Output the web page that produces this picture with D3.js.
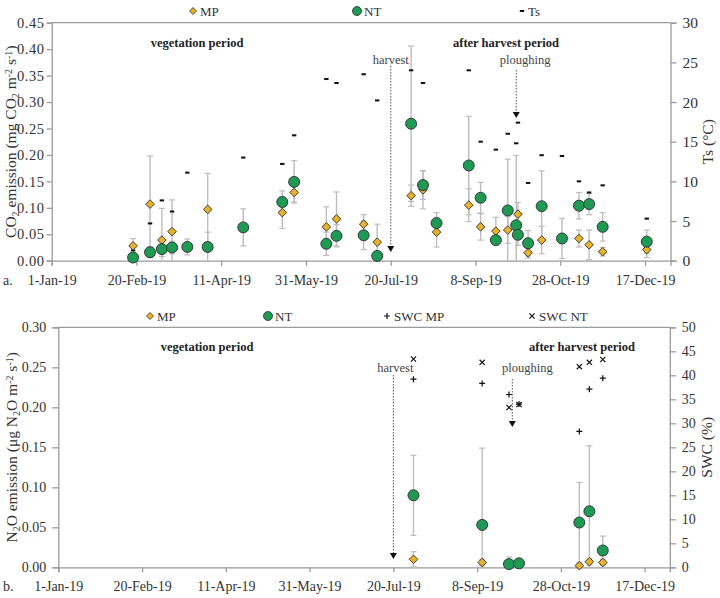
<!DOCTYPE html>
<html>
<head>
<meta charset="utf-8">
<script src="https://cdn.jsdelivr.net/npm/d3@7"></script>
<style>
  html, body { margin: 0; padding: 0; background: #fff; }
  svg { display: block; font-family: "Liberation Serif", "DejaVu Serif", serif; }
</style>
</head>
<body>
<svg id="chart" width="720" height="598"></svg>
<script>
// ---------------- DATA ----------------
const xTickLabels = ["1-Jan-19", "20-Feb-19", "11-Apr-19", "31-May-19", "20-Jul-19", "8-Sep-19", "28-Oct-19", "17-Dec-19"];
const co2YTicks = [0, 0.05, 0.10, 0.15, 0.20, 0.25, 0.30, 0.35, 0.40, 0.45];
const tsTicks = [0, 5, 10, 15, 20, 25, 30];
const n2oYTicks = [0, 0.05, 0.10, 0.15, 0.20, 0.25, 0.30];
const swcTicks = [0, 5, 10, 15, 20, 25, 30, 35, 40, 45, 50];

// Panel a: CO2 emission
const co2Dates = ["2019-02-18", "2019-02-28", "2019-03-07", "2019-03-13", "2019-03-22", "2019-04-03", "2019-04-24",
  "2019-05-17", "2019-05-24", "2019-06-12", "2019-06-18", "2019-07-04", "2019-07-12", "2019-08-01", "2019-08-08",
  "2019-08-16", "2019-09-04", "2019-09-11", "2019-09-20", "2019-09-27", "2019-10-02", "2019-10-03", "2019-10-09",
  "2019-10-17", "2019-10-29", "2019-11-08", "2019-11-14", "2019-11-22", "2019-12-18"];
const co2MP = [0.028, 0.107, 0.039, 0.055, null, 0.097, null, 0.091, 0.129, 0.064, 0.079, 0.069, 0.035, 0.123, 0.134,
  0.054, 0.105, 0.064, 0.056, 0.058, null, 0.088, 0.015, 0.039, null, 0.042, 0.030, 0.017, 0.021];
const co2MPerr = [0.014, 0.091, 0.060, 0.060, null, 0.068, null, 0.030, 0.018, 0.038, 0.051, 0.018, 0.034, 0.020, 0.036,
  0.028, 0.031, 0.025, 0.026, 0.025, null, 0.022, 0.010, 0.026, null, 0.016, 0.028, 0.008, 0.015];
const co2NT = [0.006, 0.016, 0.022, 0.025, 0.026, 0.026, 0.063, 0.111, 0.149, 0.032, 0.047, 0.048, 0.009, 0.259, 0.143,
  0.071, 0.180, 0.119, 0.039, 0.095, 0.067, 0.049, 0.033, 0.103, 0.042, 0.104, 0.107, 0.064, 0.036];
const co2NTerr = [0.006, 0.010, 0.014, 0.012, 0.015, 0.028, 0.035, 0.021, 0.040, 0.022, 0.021, 0.027, 0.008, 0.147, 0.027,
  0.020, 0.093, 0.029, 0.008, 0.097, 0.132, 0.020, 0.024, 0.067, 0.038, 0.025, 0.020, 0.027, 0.022];
const tsValues = [1.3, 4.7, 7.6, 6.2, 11.1, null, 13.0, 12.2, 15.8, 22.9, 22.4, 23.5, 20.2, 24.0, 22.4,
  null, 24.0, 15.0, 14.0, 16.0, 14.8, 17.4, 9.8, 13.3, 13.2, 10.0, 8.6, 9.5, 5.3];

// Panel b: N2O emission
const n2oDates = ["2019-08-01", "2019-09-11", "2019-09-27", "2019-10-03", "2019-11-08", "2019-11-14", "2019-11-22"];
const n2oMP = [0.010, 0.006, null, null, 0.002, 0.007, 0.006];
const n2oMPerr = [0.0095, 0.004, null, null, 0.002, 0.004, 0.004];
const n2oNT = [0.090, 0.053, 0.004, 0.005, 0.056, 0.070, 0.021];
const n2oNTerr = [0.050, 0.096, 0.009, 0.003, 0.050, 0.082, 0.018];
const swcMP = [39.2, 38.3, 36.0, 34.0, 28.3, 37.1, 39.4];
const swcNT = [43.4, 42.7, 33.3, 33.9, 41.8, 42.7, 43.3];

// Events
const eventLabels = ["harvest", "ploughing"];
const eventDatesA = ["2019-07-20", "2019-10-02"];
const eventDatesB = ["2019-07-20", "2019-09-29"];

// ---------------- DRAWING ----------------
const parse = d3.utcParse("%Y-%m-%d");
const svg = d3.select("#chart");
const MP_FILL = "#e8b22a", NT_FILL = "#1f9a55", STROKE = "#2b2b2b";
const AXIS = "#9a9a9a", ERR = "#bdbdbd";
const startDate = parse("2019-01-01"), endDate = parse("2020-01-01");
const xTickDates = xTickLabels.map((_, i) => d3.utcDay.offset(startDate, i * 50));

function drawPanel(o) {
  const g = svg.append("g");
  const x = d3.scaleUtc().domain([startDate, endDate]).range([o.left, o.right]);
  const y = d3.scaleLinear().domain([0, o.yMax]).range([o.bottom, o.top]);
  const y2 = d3.scaleLinear().domain([0, o.y2Max]).range([o.bottom, o.top]);

  g.append("line").attr("x1", o.left).attr("x2", o.right).attr("y1", o.top).attr("y2", o.top)
    .attr("stroke", AXIS).attr("stroke-width", 1.3);

  const styleAxis = (fs, ls) => sel => {
    sel.select(".domain").attr("stroke", AXIS).attr("stroke-width", 1.3);
    sel.selectAll(".tick line").attr("stroke", AXIS).attr("stroke-width", 1.3);
    sel.selectAll("text").attr("font-family", "Liberation Serif, serif").attr("font-size", fs)
      .attr("letter-spacing", ls).attr("fill", "#333");
  };

  g.append("g").attr("transform", `translate(0,${o.bottom})`)
    .call(d3.axisBottom(x).tickValues(xTickDates).tickFormat((d, i) => xTickLabels[i]).tickSizeOuter(0).tickSize(5).tickPadding(9))
    .call(styleAxis(14, 0));
  g.append("g").attr("transform", `translate(${o.left},0)`)
    .call(d3.axisLeft(y).tickValues(o.yTicks).tickFormat(d3.format(".2f")).tickSizeOuter(0).tickSize(o.yTickSize).tickPadding(o.yTickPad))
    .call(styleAxis(o.yFont, o.yLs));
  g.append("g").attr("transform", `translate(${o.right},0)`)
    .call(d3.axisRight(y2).tickValues(o.y2Ticks).tickFormat(d3.format("d")).tickSizeOuter(0).tickSize(6).tickPadding(6))
    .call(styleAxis(o.y2Font, 0));

  g.append("text").attr("x", 3).attr("y", o.bottom + 24).attr("font-size", 14).attr("fill", "#333").text(o.letter);

  const lt = g.append("text").attr("transform", `translate(${o.ltX},${(o.top + o.bottom) / 2 + o.ltDy}) rotate(-90)`)
    .attr("text-anchor", "middle").attr("font-size", 15.5).attr("fill", "#333");
  o.leftTitle.forEach(p => {
    const t = lt.append("tspan").text(p.t);
    if (p.sub) t.attr("font-size", 10).attr("baseline-shift", "-25%");
    if (p.sup) t.attr("font-size", 10).attr("baseline-shift", "45%");
  });
  g.append("text").attr("transform", `translate(${o.rtX},${(o.top + o.bottom) / 2}) rotate(-90)`)
    .attr("text-anchor", "middle").attr("font-size", 15.5).attr("fill", "#333").text(o.rightTitle);

  g.append("text").attr("x", o.vegX).attr("y", o.top + 24).attr("text-anchor", "middle")
    .attr("font-size", 12.5).attr("font-weight", "bold").attr("fill", "#222").text("vegetation period");
  g.append("text").attr("x", o.ahX).attr("y", o.top + 24).attr("text-anchor", "middle")
    .attr("font-size", 12.5).attr("font-weight", "bold").attr("fill", "#222").text("after harvest period");

  o.events.forEach(ev => {
    const ex = x(parse(ev.date));
    g.append("text").attr("x", ex + ev.dx).attr("y", ev.labelY).attr("text-anchor", "middle")
      .attr("font-size", 12.5).attr("fill", "#444").text(ev.label);
    g.append("line").attr("x1", ex).attr("x2", ex).attr("y1", ev.y1).attr("y2", ev.y2 - 5)
      .attr("stroke", "#555").attr("stroke-width", 1).attr("stroke-dasharray", "1.5,1.5");
    g.append("path").attr("d", `M${ex - 3.5},${ev.y2 - 6} L${ex + 3.5},${ev.y2 - 6} L${ex},${ev.y2} Z`).attr("fill", "#111");
  });

  return { g, x, y, y2 };
}

function errBars(g, x, y, dates, vals, errs) {
  dates.forEach((d, i) => {
    if (vals[i] == null || errs[i] == null) return;
    const cx = x(parse(d));
    const lo = Math.max(0, vals[i] - errs[i]), hi = vals[i] + errs[i];
    g.append("line").attr("x1", cx).attr("x2", cx).attr("y1", y(lo)).attr("y2", y(hi)).attr("stroke", ERR).attr("stroke-width", 1.4);
    [hi, lo].forEach(v => {
      if (v <= 0) return;
      g.append("line").attr("x1", cx - 3).attr("x2", cx + 3).attr("y1", y(v)).attr("y2", y(v)).attr("stroke", ERR).attr("stroke-width", 1.2);
    });
  });
}
const diamond = (cx, cy, r) => `M${cx},${cy - r} L${cx + r},${cy} L${cx},${cy + r} L${cx - r},${cy} Z`;
function mpMarks(g, x, y, dates, vals) {
  dates.forEach((d, i) => {
    if (vals[i] == null) return;
    g.append("path").attr("d", diamond(x(parse(d)), y(vals[i]), 4.3)).attr("fill", MP_FILL).attr("stroke", STROKE).attr("stroke-width", 0.9);
  });
}
function ntMarks(g, x, y, dates, vals) {
  dates.forEach((d, i) => {
    if (vals[i] == null) return;
    g.append("circle").attr("cx", x(parse(d))).attr("cy", y(vals[i])).attr("r", 5.5).attr("fill", NT_FILL).attr("stroke", STROKE).attr("stroke-width", 0.9);
  });
}
function plusMark(g, cx, cy) {
  g.append("path").attr("d", `M${cx - 3},${cy} L${cx + 3},${cy} M${cx},${cy - 3} L${cx},${cy + 3}`).attr("stroke", "#111").attr("stroke-width", 1.2);
}
function crossMark(g, cx, cy) {
  g.append("path").attr("d", `M${cx - 2.6},${cy - 2.6} L${cx + 2.6},${cy + 2.6} M${cx - 2.6},${cy + 2.6} L${cx + 2.6},${cy - 2.6}`).attr("stroke", "#111").attr("stroke-width", 1.2);
}
function dashMark(g, cx, cy) {
  g.append("rect").attr("x", cx - 2.2).attr("y", cy - 1).attr("width", 4.4).attr("height", 2).attr("fill", "#111");
}
function legendText(g, tx, ty, s) {
  g.append("text").attr("x", tx).attr("y", ty + 4.5).attr("font-size", 13).attr("fill", "#333").text(s);
}

// ---- Panel a ----
const A = drawPanel({
  left: 51.7, right: 670.5, top: 22.7, bottom: 260.7, yMax: 0.45, y2Max: 30,
  yTicks: co2YTicks, y2Ticks: tsTicks, yTickSize: 5, yTickPad: 2, yFont: 14.5, yLs: 0.6, y2Font: 15.5, letter: "a.",
  ltX: 15.5, ltDy: 0, rtX: 713, rightTitle: "Ts (°C)",
  leftTitle: [{ t: "CO" }, { t: "2", sub: true }, { t: " emission (mg CO" }, { t: "2", sub: true }, { t: " m" }, { t: "-2", sup: true }, { t: " s" }, { t: "-1", sup: true }, { t: ")" }],
  vegX: 197, ahX: 506,
  events: [
    { label: eventLabels[0], date: eventDatesA[0], dx: 0, labelY: 64, y1: 66, y2: 252 },
    { label: eventLabels[1], date: eventDatesA[1], dx: 9, labelY: 64, y1: 70, y2: 118 }
  ]
});
errBars(A.g, A.x, A.y, co2Dates, co2MP, co2MPerr);
errBars(A.g, A.x, A.y, co2Dates, co2NT, co2NTerr);
co2Dates.forEach((d, i) => { if (tsValues[i] != null) dashMark(A.g, A.x(parse(d)), A.y2(tsValues[i])); });
mpMarks(A.g, A.x, A.y, co2Dates, co2MP);
ntMarks(A.g, A.x, A.y, co2Dates, co2NT);
A.g.append("path").attr("d", diamond(193, 11, 3.5)).attr("fill", MP_FILL).attr("stroke", STROKE).attr("stroke-width", 0.8);
legendText(A.g, 200, 11, "MP");
A.g.append("circle").attr("cx", 357).attr("cy", 11).attr("r", 4.5).attr("fill", NT_FILL).attr("stroke", STROKE).attr("stroke-width", 0.8);
legendText(A.g, 364, 11, "NT");
dashMark(A.g, 522, 11);
legendText(A.g, 528, 11, "Ts");

// ---- Panel b ----
const B = drawPanel({
  left: 58.3, right: 669.8, top: 327.3, bottom: 567.3, yMax: 0.30, y2Max: 50,
  yTicks: n2oYTicks, y2Ticks: swcTicks, yTickSize: 6, yTickPad: 6, yFont: 14, yLs: 0, y2Font: 14, letter: "b.",
  ltX: 17, ltDy: 0, rtX: 712, rightTitle: "SWC (%)",
  leftTitle: [{ t: "N" }, { t: "2", sub: true }, { t: "O emission (μg N" }, { t: "2", sub: true }, { t: "O m" }, { t: "-2", sup: true }, { t: " s" }, { t: "-1", sup: true }, { t: ")" }],
  vegX: 207, ahX: 582,
  events: [
    { label: eventLabels[0], date: eventDatesB[0], dx: 2, labelY: 372, y1: 375, y2: 559 },
    { label: eventLabels[1], date: eventDatesB[1], dx: 15, labelY: 372, y1: 379, y2: 427 }
  ]
});
errBars(B.g, B.x, B.y, n2oDates, n2oMP, n2oMPerr);
errBars(B.g, B.x, B.y, n2oDates, n2oNT, n2oNTerr);
n2oDates.forEach((d, i) => {
  const cx = B.x(parse(d));
  if (swcMP[i] != null) plusMark(B.g, cx, B.y2(swcMP[i]));
  if (swcNT[i] != null) crossMark(B.g, cx, B.y2(swcNT[i]));
});
mpMarks(B.g, B.x, B.y, n2oDates, n2oMP);
ntMarks(B.g, B.x, B.y, n2oDates, n2oNT);
B.g.append("path").attr("d", diamond(150, 316, 3.5)).attr("fill", MP_FILL).attr("stroke", STROKE).attr("stroke-width", 0.8);
legendText(B.g, 157, 316, "MP");
B.g.append("circle").attr("cx", 268).attr("cy", 316).attr("r", 4.5).attr("fill", NT_FILL).attr("stroke", STROKE).attr("stroke-width", 0.8);
legendText(B.g, 275, 316, "NT");
plusMark(B.g, 387, 316);
legendText(B.g, 394, 316, "SWC MP");
crossMark(B.g, 532, 316);
legendText(B.g, 539, 316, "SWC NT");
</script>
</body>
</html>
